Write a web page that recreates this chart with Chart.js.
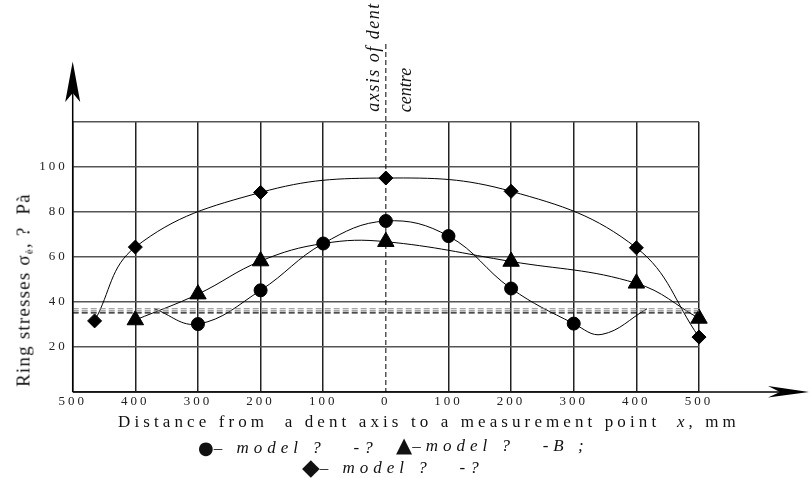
<!doctype html>
<html lang="en">
  <head>
    <meta charset="utf-8">
    <title>Ring stresses vs distance from dent axis</title>
    <style>
      * {
        margin: 0;
        padding: 0;
      }
      body {
        width: 810px;
        height: 478px;
        position: relative;
        overflow: hidden;
        background: #fff;
        font-family: "Liberation Serif", serif;
        color: #111;
      }
      .chartBox {
        position: absolute;
        left: 0;
        top: 0;
        width: 810px;
        height: 478px;
      }
      .lbl {
        position: absolute;
        white-space: pre;
        line-height: 1;
      }
      .rot {
        transform: translate(-50%, -50%) rotate(-90deg);
      }
      .ytitle { left: 24px; top: 290px; font-size: 19px; letter-spacing: 1.2px; }
      .ytitle sub { font-size: 11px; vertical-align: -3px; }
      .axis1 { left: 373px; top: 57px; font-size: 18px; font-style: italic; letter-spacing: 1.5px; }
      .axis2 { left: 405px; top: 90px; font-size: 18px; font-style: italic; }
      .xtitle { left: 118px; top: 413px; font-size: 17px; letter-spacing: 4.1px; }
      .leg { font-size: 17px; font-style: italic; letter-spacing: 5px; }
      .mk { display: inline-block; vertical-align: middle; line-height: 1; font-family: "DejaVu Sans", sans-serif; font-style: normal; letter-spacing: 0; }
    </style>
  </head>

  <body>
    <div class="chartBox">
      <canvas id="myChart"></canvas>
    </div>

    <div class="lbl rot ytitle">Ring stresses σ<sub>è</sub>, ?  Pà</div>
    <div class="lbl rot axis1">axsis of dent</div>
    <div class="lbl rot axis2">centre</div>
    <div class="lbl xtitle">Distance from  a dent axis to a measurement point  <i>x</i>, mm</div>
    <div class="lbl leg" style="left:198px; top:439px;"><span class="mk" style="font-size:18px; margin-top:-3px;">●</span>– model ?   -?</div>
    <div class="lbl leg" style="left:396px; top:437px;"><span class="mk" style="font-size:21px; margin-top:-3px;">▲</span>–model ?   -B ;</div>
    <div class="lbl leg" style="left:302px; top:459px;"><span class="mk" style="font-size:23px; margin-top:-4px;">◆</span>– model ?   -?</div>

    <script src="https://cdn.jsdelivr.net/npm/chart.js"></script>
    <script>
    // x: distance from dent axis, mm (left side negative), y: ring stress
    const xTicks = [-500, -400, -300, -200, -100, 0, 100, 200, 300, 400, 500];
    const yTickLabels = [20, 40, 60, 80, 100];

    // model 1 (circles) - first/last and the dip point are curve points without marker
    const circleX = [-370, -300, -200, -100, 0, 100, 200, 300, 345, 417];
    const circleY = [37, 30.2, 45.2, 66, 76, 69.3, 46, 30.4, 25.6, 37];
    const circleMarked = [false, true, true, true, true, true, true, true, false, false];

    // model 2 (triangles)
    const triX = [-400, -300, -200, -100, 0, 200, 400, 500];
    const triY = [32, 43.5, 58.2, 66, 66.8, 58, 48.3, 32.7];
    const triMarked = [true, true, true, false, true, true, true, true];

    // model 3 (diamonds)
    const diaX = [-465, -400, -200, 0, 200, 400, 500];
    const diaY = [31.6, 64.4, 88.7, 95.1, 89.2, 64.1, 24.4];

    // dashed reference levels
    const refLevels = [37, 36.1, 35.2];
    const refColors = ['#888', '#888', '#111'];

    const pts = (xs, ys) => xs.map((v, i) => ({ x: v, y: ys[i] }));

    function curve(xs, ys, marked, style, radius) {
      return {
        data: pts(xs, ys),
        borderColor: '#000',
        backgroundColor: '#000',
        borderWidth: 1,
        tension: 0.4,
        pointStyle: style,
        pointRadius: marked ? marked.map(m => (m ? radius : 0)) : radius,
        pointHoverRadius: radius,
        clip: false
      };
    }

    const refSets = refLevels.map((v, i) => ({
      data: [{ x: -500, y: v }, { x: 500, y: v }],
      borderColor: refColors[i],
      borderWidth: 1.2,
      borderDash: [6, 3],
      pointRadius: 0,
      tension: 0
    }));

    // axes with arrows, dashed centre line
    const decorations = {
      id: 'decorations',
      beforeDraw(chart) {
        chart.ctx.letterSpacing = '3px';
      },
      afterDraw(chart) {
        const { ctx, chartArea: a, scales: { x } } = chart;
        ctx.save();
        ctx.letterSpacing = '0px';
        ctx.strokeStyle = '#000';
        ctx.fillStyle = '#000';

        // centre dashed line
        const x0 = x.getPixelForValue(0);
        ctx.lineWidth = 1;
        ctx.setLineDash([5, 3]);
        ctx.beginPath();
        ctx.moveTo(x0, 44);
        ctx.lineTo(x0, a.bottom);
        ctx.stroke();
        ctx.setLineDash([]);

        // y axis
        ctx.lineWidth = 1.5;
        ctx.beginPath();
        ctx.moveTo(a.left, a.bottom);
        ctx.lineTo(a.left, 80);
        ctx.stroke();
        ctx.beginPath();
        ctx.moveTo(a.left, 61.5);
        ctx.lineTo(a.left + 7.5, 102);
        ctx.lineTo(a.left, 93);
        ctx.lineTo(a.left - 7.5, 102);
        ctx.closePath();
        ctx.fill();

        // x axis
        ctx.beginPath();
        ctx.moveTo(a.left, a.bottom);
        ctx.lineTo(790, a.bottom);
        ctx.stroke();
        ctx.beginPath();
        ctx.moveTo(809, a.bottom);
        ctx.lineTo(768, a.bottom - 6);
        ctx.lineTo(780, a.bottom);
        ctx.lineTo(768, a.bottom + 5.5);
        ctx.closePath();
        ctx.fill();
        ctx.restore();
      }
    };

    const config = {
      type: 'line',
      data: {
        datasets: [
          ...refSets,
          curve(circleX, circleY, circleMarked, 'circle', 6.5),
          curve(triX, triY, triMarked, 'triangle', 9.5),
          curve(diaX, diaY, null, 'rectRot', 7)
        ]
      },
      options: {
        responsive: true,
        maintainAspectRatio: false,
        animation: false,
        events: [],
        layout: {
          padding: { left: 0, right: 111, top: 122, bottom: 66 }
        },
        plugins: {
          legend: { display: false },
          tooltip: { enabled: false }
        },
        scales: {
          x: {
            type: 'linear',
            min: -500,
            max: 500,
            afterBuildTicks: (s) => { s.ticks = xTicks.map(v => ({ value: v })); },
            afterFit: (s) => { s.height = 20; },
            border: { display: false },
            grid: {
              color: (c) => (c.tick && c.tick.value === 0 ? 'transparent' : '#222'),
              lineWidth: 1.5,
              drawTicks: false
            },
            ticks: {
              padding: 2,
              maxRotation: 0,
              color: '#222',
              font: { family: 'Liberation Serif', size: 13 },
              callback: (v) => String(Math.abs(v))
            }
          },
          y: {
            min: 0,
            max: 120,
            afterBuildTicks: (s) => { s.ticks = [0, 20, 40, 60, 80, 100, 120].map(v => ({ value: v })); },
            afterFit: (s) => { s.width = 72.7; },
            border: { display: false },
            grid: {
              color: '#555',
              lineWidth: 1.5,
              drawTicks: false
            },
            ticks: {
              padding: 5,
              color: '#222',
              font: { family: 'Liberation Serif', size: 13 },
              callback: (v) => (yTickLabels.includes(v) ? String(v) : '')
            }
          }
        }
      },
      plugins: [decorations]
    };

    const myChart = new Chart(document.getElementById('myChart'), config);
    </script>
  </body>
</html>
